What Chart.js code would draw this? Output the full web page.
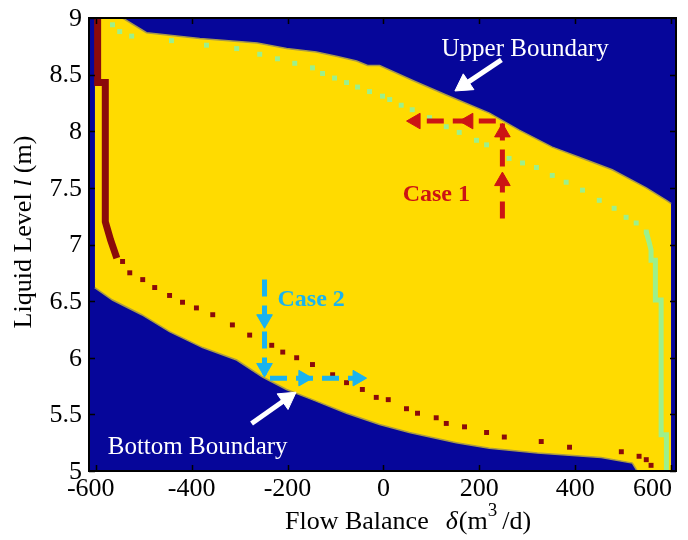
<!DOCTYPE html>
<html>
<head>
<meta charset="utf-8">
<script src="https://cdn.jsdelivr.net/npm/chart.js@4.4.1/dist/chart.umd.min.js"></script>
<style>
  html, body { margin: 0; padding: 0; background: #fff; }
  #wrap { width: 688px; height: 540px; }
</style>
</head>
<body>
<div id="wrap"><canvas id="mapChart"></canvas></div>
<script>
// axis ticks
var xTicks = [-600, -400, -200, 0, 200, 400, 600];
var yTicks = [5, 5.5, 6, 6.5, 7, 7.5, 8, 8.5, 9];

// boundary of the feasible (yellow) region
var upperX = [-602, -544, -494, -383, -263, -202, -140, -96, -56, -33, -8, 60, 131, 221, 283, 352, 408, 477, 548, 590, 600];
var upperY = [9.0, 9.0, 8.87, 8.82, 8.78, 8.73, 8.70, 8.66, 8.62, 8.58, 8.58, 8.45, 8.32, 8.16, 8.01, 7.86, 7.77, 7.66, 7.50, 7.39, 7.36];
var lowerX = [-602, -565, -504, -446, -377, -306, -252, -202, -148, -77, -8, 54, 152, 221, 321, 454, 519, 529, 600];
var lowerY = [6.62, 6.51, 6.38, 6.23, 6.09, 5.98, 5.83, 5.72, 5.63, 5.51, 5.41, 5.34, 5.25, 5.20, 5.16, 5.12, 5.07, 5.0, 5.0];

// dark red trajectory (solid part, then dotted part)
var redLineX = [-596, -596, -580, -580, -569, -556];
var redLineY = [9.0, 8.43, 8.43, 7.20, 7.04, 6.88];
var redDotX = [-544, -529, -502, -477, -446, -419, -390, -356, -315, -279, -233, -210, -181, -148, -106, -77, -44, -15, 10, 48, 71, 110, 131, 169, 215, 252, 329, 388, 496, 533, 548, 558];
var redDotY = [6.85, 6.75, 6.69, 6.62, 6.55, 6.49, 6.44, 6.38, 6.29, 6.20, 6.11, 6.05, 6.00, 5.94, 5.85, 5.78, 5.72, 5.65, 5.63, 5.55, 5.51, 5.47, 5.42, 5.39, 5.34, 5.30, 5.26, 5.21, 5.17, 5.13, 5.10, 5.05];

// light green trajectory (dotted part, then solid right edge)
var greenDotX = [-565, -550, -525, -442, -369, -306, -258, -221, -185, -148, -127, -102, -77, -54, -29, -2, 13, 37, 60, 96, 131, 158, 194, 215, 262, 290, 319, 352, 381, 415, 450, 481, 506, 527, 548];
var greenDotY = [8.94, 8.88, 8.84, 8.80, 8.76, 8.73, 8.68, 8.64, 8.60, 8.56, 8.51, 8.47, 8.43, 8.39, 8.35, 8.31, 8.28, 8.23, 8.19, 8.12, 8.04, 7.99, 7.92, 7.88, 7.76, 7.72, 7.68, 7.61, 7.55, 7.48, 7.39, 7.32, 7.24, 7.19, 7.11];
var greenLineX = [548, 554, 558, 558, 567, 567, 579, 579, 590, 590];
var greenLineY = [7.11, 7.02, 6.95, 6.86, 6.86, 6.51, 6.51, 5.32, 5.32, 5.0];

// case arrows: path + heads (heads carry a direction in degrees)
var case1PathX = [248, 248, 58];
var case1PathY = [7.23, 8.09, 8.09];
var case1HeadX = [248, 248, 177, 67];
var case1HeadY = [7.56, 7.99, 8.09, 8.09];
var case1HeadDir = [0, 0, 270, 270];

var case2PathX = [-248, -248, -60];
var case2PathY = [6.69, 5.82, 5.82];
var case2HeadX = [-248, -248, -167, -54];
var case2HeadY = [6.34, 5.91, 5.82, 5.82];
var case2HeadDir = [180, 180, 90, 90];

// white pointer arrows for the boundary labels
var upperPtrX = [246, 168];
var upperPtrY = [8.63, 8.41];
var lowerPtrX = [-275, -201];
var lowerPtrY = [5.42, 5.64];

function pts(xs, ys) {
    return xs.map(function (x, i) { return { x: x, y: ys[i] }; });
}

var BLUE = '#06069a';
var YELLOW = '#ffdb00';
var DARKRED = '#8b0a0a';
var GREEN = '#9cf08c';
var RED = '#cc1414';
var CYAN = '#1ab3ef';
var SERIF = "'Liberation Serif', 'Times New Roman', serif";

function drawRuns(ctx, x, y, runs) {
    runs.forEach(function (r) {
        ctx.font = r.font;
        ctx.fillText(r.text, x, y + (r.dy || 0));
        x += ctx.measureText(r.text).width + (r.gap || 0);
    });
}
function runsWidth(ctx, runs) {
    var w = 0;
    runs.forEach(function (r) {
        ctx.font = r.font;
        w += ctx.measureText(r.text).width + (r.gap || 0);
    });
    return w;
}

var framePlugin = {
    id: 'frame',
    beforeDraw: function (chart) {
        var ctx = chart.ctx, a = chart.chartArea;
        ctx.save();
        ctx.fillStyle = BLUE;
        ctx.fillRect(a.left, a.top, a.right - a.left, a.bottom - a.top);
        ctx.restore();
    },
    afterDraw: function (chart) {
        var ctx = chart.ctx, a = chart.chartArea;
        var xs = chart.scales.x, ys = chart.scales.y;
        ctx.save();
        // border + inward ticks
        ctx.strokeStyle = '#000';
        ctx.lineWidth = 2;
        ctx.strokeRect(a.left, a.top, a.right - a.left, a.bottom - a.top);
        ctx.lineWidth = 1.5;
        ctx.beginPath();
        xTicks.forEach(function (v) {
            var px = Math.round(xs.getPixelForValue(v)) + 0.5;
            ctx.moveTo(px, a.bottom); ctx.lineTo(px, a.bottom - 6);
            ctx.moveTo(px, a.top); ctx.lineTo(px, a.top + 6);
        });
        yTicks.forEach(function (v) {
            var py = Math.round(ys.getPixelForValue(v)) + 0.5;
            ctx.moveTo(a.left, py); ctx.lineTo(a.left + 6, py);
            ctx.moveTo(a.right, py); ctx.lineTo(a.right - 6, py);
        });
        ctx.stroke();

        // tick labels
        ctx.fillStyle = '#000';
        ctx.font = '26px ' + SERIF;
        ctx.textAlign = 'right';
        ctx.textBaseline = 'middle';
        yTicks.forEach(function (v) {
            ctx.fillText(v % 1 === 0 ? String(v) : v.toFixed(1), a.left - 7, ys.getPixelForValue(v) + 1);
        });
        ctx.textBaseline = 'top';
        xTicks.forEach(function (v, i) {
            var last = i === xTicks.length - 1;
            ctx.textAlign = last ? 'right' : 'center';
            var px = last ? a.right - 4 : xs.getPixelForValue(v) - (i === 0 ? 5 : 0);
            ctx.fillText(String(v), px, a.bottom + 5);
        });

        // axis titles
        var reg = '26px ' + SERIF, ita = 'italic 26px ' + SERIF, sup = '19px ' + SERIF;
        ctx.textAlign = 'left';
        ctx.textBaseline = 'alphabetic';
        drawRuns(ctx, 285, 529, [
            { text: 'Flow Balance', font: reg, gap: 17 },
            { text: '\u03b4', font: ita, gap: 1 },
            { text: '(m', font: reg, gap: 0 },
            { text: '3', font: sup, dy: -13, gap: 5 },
            { text: '/d)', font: reg }
        ]);
        var yRuns = [
            { text: 'Liquid Level ', font: reg },
            { text: 'l', font: ita },
            { text: ' (m)', font: reg }
        ];
        var w = runsWidth(ctx, yRuns);
        ctx.translate(24, 232);
        ctx.rotate(-Math.PI / 2);
        ctx.textBaseline = 'middle';
        drawRuns(ctx, -w / 2, 0, yRuns);
        ctx.restore();

        // annotations
        ctx.save();
        ctx.textAlign = 'left';
        ctx.textBaseline = 'middle';
        ctx.font = 'bold 24px ' + SERIF;
        ctx.fillStyle = RED;
        ctx.fillText('Case 1', xs.getPixelForValue(40), ys.getPixelForValue(7.44));
        ctx.fillStyle = CYAN;
        ctx.fillText('Case 2', xs.getPixelForValue(-221), ys.getPixelForValue(6.51));
        ctx.font = '25px ' + SERIF;
        ctx.fillStyle = '#fff';
        ctx.fillText('Upper Boundary', xs.getPixelForValue(121), ys.getPixelForValue(8.72));
        ctx.fillText('Bottom Boundary', xs.getPixelForValue(-575), ys.getPixelForValue(5.21));
        ctx.restore();
    }
};

function headSet(xs, ys, dirs, color, r, order) {
    return {
        type: 'scatter', data: pts(xs, ys), showLine: false,
        pointStyle: 'triangle', pointRadius: r, pointRotation: dirs,
        backgroundColor: color, borderColor: color, borderWidth: 1, order: order
    };
}

var ctx = document.getElementById('mapChart');
var mapChart = new Chart(ctx, {
    type: 'scatter',
    data: {
        datasets: [
            { type: 'line', data: pts(upperX, upperY), borderColor: '#a89a48', borderWidth: 1.5,
              backgroundColor: YELLOW, fill: '+1', pointRadius: 0, tension: 0, order: 20 },
            { type: 'line', data: pts(lowerX, lowerY), borderColor: '#a89a48', borderWidth: 1.5,
              fill: false, pointRadius: 0, tension: 0, order: 19 },
            { type: 'scatter', data: pts(redLineX, redLineY), showLine: true, borderColor: DARKRED,
              borderWidth: 7, pointRadius: 0, order: 10 },
            { type: 'scatter', data: pts(redDotX, redDotY), pointStyle: 'rect', pointRadius: 3.5,
              backgroundColor: DARKRED, borderWidth: 0, order: 10 },
            { type: 'scatter', data: pts(greenDotX, greenDotY), pointStyle: 'rect', pointRadius: 3.5,
              backgroundColor: GREEN, borderWidth: 0, order: 10 },
            { type: 'scatter', data: pts(greenLineX, greenLineY), showLine: true, borderColor: GREEN,
              borderWidth: 5, pointRadius: 0, order: 10 },
            { type: 'scatter', data: pts(case1PathX, case1PathY), showLine: true, borderColor: RED,
              borderWidth: 5, borderDash: [17, 9], pointRadius: 0, order: 5 },
            headSet(case1HeadX, case1HeadY, case1HeadDir, RED, 9, 4),
            { type: 'scatter', data: pts(case2PathX, case2PathY), showLine: true, borderColor: CYAN,
              borderWidth: 5, borderDash: [17, 9], pointRadius: 0, order: 5 },
            headSet(case2HeadX, case2HeadY, case2HeadDir, CYAN, 9, 4),
            { type: 'scatter', data: pts(upperPtrX, upperPtrY), showLine: true, borderColor: '#fff',
              borderWidth: 5, pointRadius: 0, order: 5 },
            headSet([upperPtrX[1]], [upperPtrY[1]], [236], '#fff', 11, 4),
            { type: 'scatter', data: pts(lowerPtrX, lowerPtrY), showLine: true, borderColor: '#fff',
              borderWidth: 5, pointRadius: 0, order: 5 },
            headSet([lowerPtrX[1]], [lowerPtrY[1]], [55], '#fff', 11, 4)
        ]
    },
    options: {
        responsive: true,
        maintainAspectRatio: false,
        animation: false,
        devicePixelRatio: 1,
        layout: { padding: { top: 18, right: 11, left: 0, bottom: 0 } },
        plugins: { legend: { display: false }, tooltip: { enabled: false } },
        scales: {
            x: {
                type: 'linear', min: -614, max: 610,
                grid: { display: false }, border: { display: false }, ticks: { display: false },
                afterBuildTicks: function (s) { s.ticks = xTicks.map(function (v) { return { value: v }; }); },
                afterFit: function (s) { s.height = 69; }
            },
            y: {
                type: 'linear', min: 5, max: 9,
                grid: { display: false }, border: { display: false }, ticks: { display: false },
                afterBuildTicks: function (s) { s.ticks = yTicks.map(function (v) { return { value: v }; }); },
                afterFit: function (s) { s.width = 89; }
            }
        }
    },
    plugins: [framePlugin]
});
</script>
</body>
</html>
